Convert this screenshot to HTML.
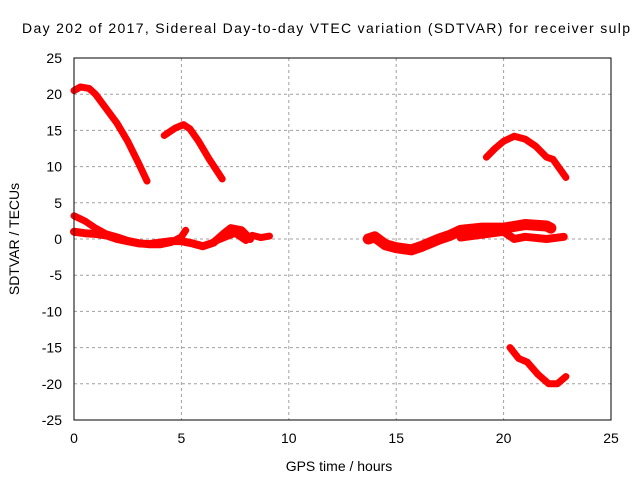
<!DOCTYPE html>
<html><head><meta charset="utf-8"><style>
body{margin:0;background:#fff}
svg{display:block;font-family:"Liberation Sans",sans-serif;font-size:14px}
</style></head><body>
<svg id="chart" width="640" height="480">
<text x="22" y="33" textLength="608" lengthAdjust="spacing">Day 202 of 2017, Sidereal Day-to-day VTEC variation (SDTVAR) for receiver sulp</text>
<text x="339" y="471" text-anchor="middle">GPS time / hours</text>
<text transform="translate(19,239) rotate(-90)" text-anchor="middle">SDTVAR / TECUs</text>
<g id="grid"></g><g id="axes"></g><g id="marks"></g>
<rect x="74" y="58" width="537" height="362" fill="none" stroke="#000" stroke-width="1"/>
</svg>
<script>
const xTicks=[0,5,10,15,20,25];
const yTicks=[25,20,15,10,5,0,-5,-10,-15,-20,-25];
const seriesA=[[0,20.5],[0.3,21],[0.7,20.8],[1,20],[1.5,18],[2,16],[2.5,13.5],[3,10.5],[3.4,8]];
const seriesB=[[4.2,14.3],[4.7,15.3],[5.1,15.8],[5.4,15.2],[5.8,13.5],[6.3,11],[6.9,8.3]];
const seriesC=[[0,3.2],[0.5,2.5],[1,1.5],[1.5,0.7],[2,0.3],[2.5,-0.2],[3,-0.5],[3.5,-0.8],[4,-0.8],[4.5,-0.5],[5,0.3],[5.2,1.2]];
const seriesD=[[0,1],[0.5,0.8],[1,0.7],[1.5,0.5],[2,0],[2.5,-0.3],[3,-0.6],[3.5,-0.7],[4,-0.5],[4.5,-0.3],[5,-0.3],[5.5,-0.6],[6,-1],[6.5,-0.5],[7,0.8],[7.3,1.5],[7.8,1.2],[8.2,0]];
const seriesD2=[[6.5,-0.4],[7,0.2],[7.5,0.8],[8,-0.2],[8.3,0.5],[8.7,0.2],[9.1,0.4]];
const seriesE=[[13.7,0],[14,0.3],[14.5,-0.8],[15,-1.2],[15.7,-1.5],[16.2,-1],[17,0],[17.5,0.5],[18,1.2],[19,1.5],[20,1.5],[21,2],[22,1.8],[22.2,1.5]];
const seriesF=[[18,0.2],[19,0.6],[20,1],[20.5,0],[21,0.3],[22,0],[22.8,0.3]];
const seriesG=[[19.2,11.3],[19.6,12.5],[20,13.5],[20.5,14.2],[21,13.8],[21.5,12.8],[22,11.3],[22.3,11],[22.9,8.5]];
const seriesH=[[20.3,-15],[20.7,-16.5],[21.1,-17],[21.6,-18.7],[22.1,-20],[22.5,-20],[22.9,-19]];
const allSeries=[seriesA,seriesB,seriesC,seriesD,seriesD2,seriesE,seriesF,seriesG,seriesH];
const seriesNames=['series-a','series-b','series-c','series-d','series-d2','series-e','series-f','series-g','series-h'];
const seriesWidths=[7,7,7,8,7,11,8,7,7];
const X=v=>74+v/25*537, Y=v=>239-v*7.24;
const NS='http://www.w3.org/2000/svg';
const grid=document.getElementById('grid'),axes=document.getElementById('axes'),marks=document.getElementById('marks');
function mk(tag,attrs,parent){const e=document.createElementNS(NS,tag);for(const k in attrs)e.setAttribute(k,attrs[k]);parent.appendChild(e);return e;}
xTicks.forEach(t=>{
  if(t>0&&t<25){const g=mk('line',{x1:X(t),x2:X(t),y1:58,y2:420,stroke:'#a0a0a0','stroke-dasharray':'3,3'},grid);
  
  }
  const l=mk('text',{x:X(t),y:443,'text-anchor':'middle'},axes);l.textContent=t;
  
  
});
yTicks.forEach(t=>{
  if(t<25&&t>-25){const g=mk('line',{x1:74,x2:611,y1:Y(t),y2:Y(t),stroke:'#a0a0a0','stroke-dasharray':'3,3'},grid);
  
  }
  const l=mk('text',{x:62,y:Y(t)+5,'text-anchor':'end'},axes);l.textContent=t;
  
  
});
allSeries.forEach((s,i)=>{
  const p=mk('polyline',{points:s.map(d=>X(d[0])+','+Y(d[1])).join(' '),fill:'none',stroke:'#ff0000','stroke-width':seriesWidths[i],'stroke-linejoin':'round','stroke-linecap':'round'},marks);
  
  
});
</script>
</body></html>
